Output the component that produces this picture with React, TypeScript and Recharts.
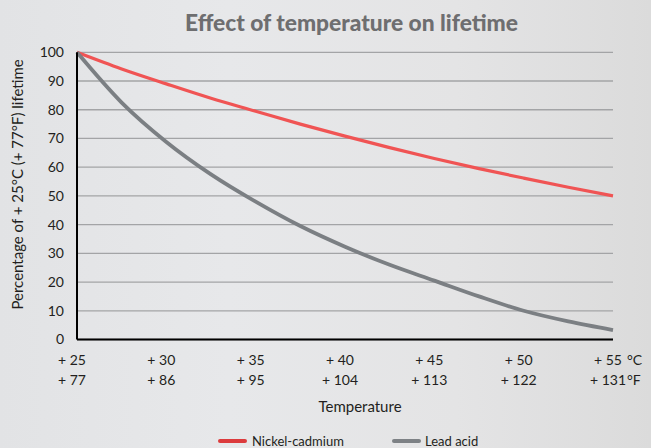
import React from "react";
import { LineChart, Line, XAxis, YAxis, CartesianGrid, Legend, Label } from "recharts";

// Temperature in °C (x positions of the readings)
const temperatureC = [25, 27.5, 30, 32.5, 35, 37.5, 40, 42.5, 45, 47.5, 50, 52.5, 55];
// Percentage of +25°C lifetime
const nickelCadmium = [100, 94.2, 89, 84, 79.5, 75, 70.8, 66.8, 63, 59.5, 56.2, 53, 50];
const leadAcid = [100, 82.5, 68.8, 57.5, 48, 39.5, 32.3, 26, 20.5, 15, 10, 6.3, 3.3];

// Axis ticks and labels
const xTicks = [25, 30, 35, 40, 45, 50, 55];
const celsiusLabels = ["+ 25", "+ 30", "+ 35", "+ 40", "+ 45", "+ 50", "+ 55"];
const fahrenheitLabels = ["+ 77", "+ 86", "+ 95", "+ 104", "+ 113", "+ 122", "+ 131"];
const yTicks = [0, 10, 20, 30, 40, 50, 60, 70, 80, 90, 100];

const seriesNames = ["Nickel-cadmium", "Lead acid"];

const data = temperatureC.map((t, i) => ({
  t,
  nicd: nickelCadmium[i],
  lead: leadAcid[i],
}));

const FONT = "Lato, 'Open Sans', sans-serif";
const TEXT = "#231f20";
const RED = "#f05454";
const GRAY = "#7b7f83";

const XTick = (props: any) => {
  const { x, y, payload } = props;
  const idx = xTicks.indexOf(payload.value);
  const last = idx === xTicks.length - 1;
  return (
    <g>
      <text x={x - 5} y={y + 25} textAnchor="middle" fontFamily={FONT} fontSize={14} fill={TEXT}>
        {celsiusLabels[idx]}
      </text>
      <text x={x - 5} y={y + 45.5} textAnchor="middle" fontFamily={FONT} fontSize={14} fill={TEXT}>
        {fahrenheitLabels[idx]}
      </text>
      {last && (
        <>
          <text x={x + 14} y={y + 25} textAnchor="start" fontFamily={FONT} fontSize={14} fill={TEXT}>
            °C
          </text>
          <text x={x + 14} y={y + 45.5} textAnchor="start" fontFamily={FONT} fontSize={14} fill={TEXT}>
            °F
          </text>
        </>
      )}
    </g>
  );
};

const renderLegend = () => (
  <div style={{ display: "flex", alignItems: "center", height: 20, fontFamily: FONT, fontSize: 13, color: TEXT, whiteSpace: "nowrap" }}>
    <div style={{ width: 29, height: 4, borderRadius: 2, background: "#dc3b3d" }} />
    <span style={{ marginLeft: 5, width: 140 }}>{seriesNames[0]}</span>
    <div style={{ width: 29, height: 4, borderRadius: 2, background: "#7d8185" }} />
    <span style={{ marginLeft: 4 }}>{seriesNames[1]}</span>
  </div>
);

export default function App() {
  return (
    <div
      style={{
        position: "absolute",
        left: 0,
        top: 0,
        width: 651,
        height: 448,
        background: "linear-gradient(90deg, #e2e3e5 0%, #e7e8ea 35%, #e4e4e5 70%, #dbdbdb 100%)",
        overflow: "hidden",
      }}
    >
      <svg width={651} height={40} style={{ position: "absolute", left: 0, top: 0 }}>
        <text
          x={185}
          y={31}
          fontFamily={FONT}
          fontWeight={900}
          fontSize={22}
          fill="#6e6e70"
          textLength={333}
          lengthAdjust="spacingAndGlyphs"
        >
          Effect of temperature on lifetime
        </text>
      </svg>
      <LineChart width={651} height={448} data={data} margin={{ top: 52.3, right: 38, bottom: 48.5, left: 0 }}>
        <CartesianGrid horizontal vertical={false} stroke="#a3a4a6" strokeWidth={1.3} />
        <XAxis
          dataKey="t"
          type="number"
          domain={[25, 55]}
          ticks={xTicks}
          interval={0}
          height={60}
          tickLine={false}
          tickSize={0}
          tickMargin={0}
          axisLine={{ stroke: "#000", strokeWidth: 2 }}
          tick={<XTick />}
        >
          <Label
            content={(p: any) => {
              const vb = p.viewBox;
              return (
                <text x={vb.x + vb.width / 2 + 15} y={vb.y + 72} textAnchor="middle" fontFamily={FONT} fontSize={15} fill={TEXT}>
                  Temperature
                </text>
              );
            }}
          />
        </XAxis>
        <YAxis
          type="number"
          domain={[0, 100]}
          ticks={yTicks}
          interval={0}
          width={77}
          tickLine={false}
          tickSize={6}
          tickMargin={7}
          axisLine={{ stroke: "#000", strokeWidth: 2 }}
          tick={{ fontFamily: FONT, fontSize: 14, fill: TEXT }}
        >
          <Label
            content={(p: any) => {
              const vb = p.viewBox;
              const cx = vb.x + 17;
              const cy = vb.y + vb.height / 2 - 11.5;
              return (
                <text
                  x={cx}
                  y={cy}
                  transform={`rotate(-90, ${cx}, ${cy})`}
                  textAnchor="middle"
                  dominantBaseline="central"
                  fontFamily={FONT}
                  fontSize={15}
                  fill={TEXT}
                >
                  Percentage of + 25°C (+ 77°F) lifetime
                </text>
              );
            }}
          />
        </YAxis>
        <Legend
          verticalAlign="middle"
          layout="horizontal"
          wrapperStyle={{ left: 218, top: 431, width: 300 }}
          content={renderLegend}
        />
        <Line
          type="monotone"
          dataKey="nicd"
          name={seriesNames[0]}
          stroke={RED}
          strokeWidth={3.2}
          dot={false}
          activeDot={false}
          isAnimationActive={false}
        />
        <Line
          type="monotone"
          dataKey="lead"
          name={seriesNames[1]}
          stroke={GRAY}
          strokeWidth={3.8}
          dot={false}
          activeDot={false}
          isAnimationActive={false}
        />
      </LineChart>
    </div>
  );
}
